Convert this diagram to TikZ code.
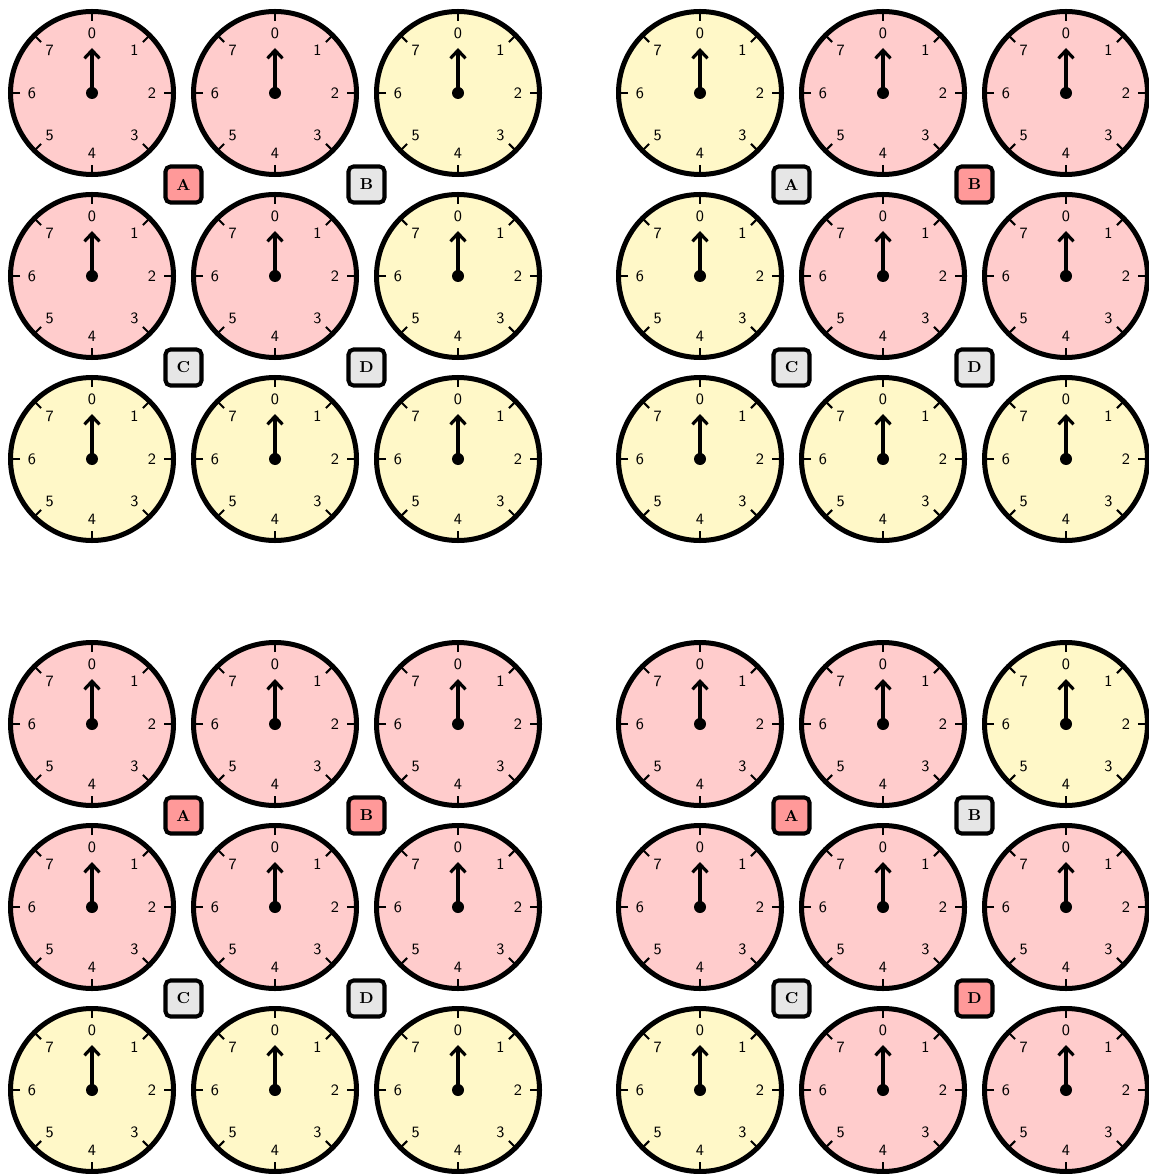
\documentclass[tikz,border=0pt]{standalone}
\usepackage{tikz}
\usetikzlibrary{arrows.meta,calc}

\definecolor{faceR}{HTML}{FFCCCC}
\definecolor{faceY}{HTML}{FFF8C8}
\definecolor{tagR}{HTML}{FF9999}
\definecolor{tagG}{HTML}{E6E6E6}

\begin{document}
\begin{tikzpicture}[
  rim/.style={line width=2.85pt},
  tick/.style={line width=1.2pt},
  hand/.style={line width=1.8pt,-{Straight Barb[length=1.6mm,width=3mm]}},
  num/.style={font=\small\sffamily,inner sep=0pt},
  tag/.style={draw,line width=2.3pt,rounded corners=1mm,minimum size=7.2mm,inner sep=0pt,font=\small\bfseries}
]
  \useasboundingbox (0,0) rectangle (22.96,-23.48);
  % four panels of 3x3 clocks, each with four tags
  \foreach \ox/\oy/\faces/\tags [count=\k] in {
      0/0/{R,R,Y,R,R,Y,Y,Y,Y}/{R/A,G/B,G/C,G/D},
      12.16/0/{Y,R,R,Y,R,R,Y,Y,Y}/{G/A,R/B,G/C,G/D},
      0/-12.62/{R,R,R,R,R,R,Y,Y,Y}/{R/A,R/B,G/C,G/D},
      12.16/-12.62/{R,R,Y,R,R,R,Y,R,R}/{R/A,G/B,G/C,R/D}}{
    \foreach \f [count=\i from 0] in \faces {
      \pgfmathtruncatemacro{\col}{mod(\i,3)}
      \pgfmathtruncatemacro{\row}{div(\i,3)}
      \coordinate (c\k-\i) at (\ox+1.84+3.66*\col,\oy-1.86-3.66*\row);
      \draw[rim,fill=face\f] (c\k-\i) circle (1.63);
      \foreach \n in {0,...,7} {
        \draw[tick] ($(c\k-\i)+(90-45*\n:1.44)$) -- ($(c\k-\i)+(90-45*\n:1.62)$);
        \node[num] (c\k-\i-n\n) at ($(c\k-\i)+(90-45*\n:1.2)$) {\n};
      }
      \draw[hand] (c\k-\i) -- ++(0,0.9);
      \fill (c\k-\i) circle (0.12);
    }
    \foreach \t/\lab [count=\j from 0] in \tags {
      \pgfmathtruncatemacro{\col}{mod(\j,2)}
      \pgfmathtruncatemacro{\row}{div(\j,2)}
      \node[tag,fill=tag\t] (tag\k-\lab) at (\ox+3.67+3.66*\col,\oy-3.69-3.66*\row) {\lab};
    }
  }
\end{tikzpicture}
\end{document}
